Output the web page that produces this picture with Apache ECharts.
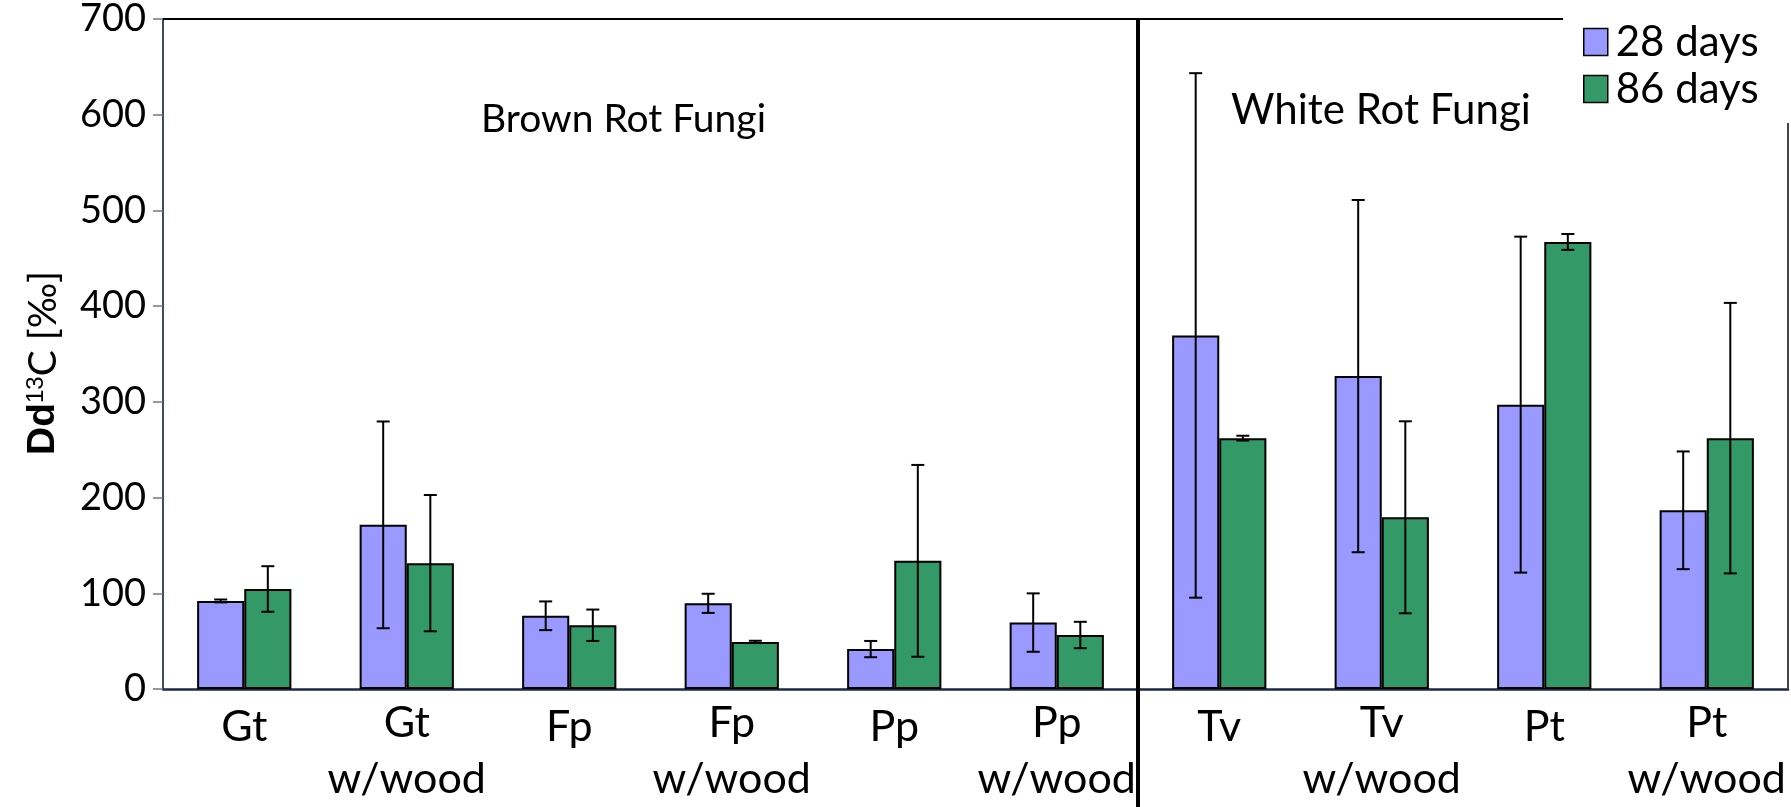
<!DOCTYPE html>
<html>
<head>
<meta charset="utf-8">
<script src="https://cdn.jsdelivr.net/npm/echarts@6/dist/echarts.min.js"></script>
<style>
  html, body { margin: 0; padding: 0; background: #fff; }
  #chart { width: 1791px; height: 807px; }
</style>
</head>
<body>
<div id="chart"></div>
<script>
// categories and values
const categories = ["Gt", "Gt\nw/wood", "Fp", "Fp\nw/wood", "Pp", "Pp\nw/wood", "Tv", "Tv\nw/wood", "Pt", "Pt\nw/wood"];
const days28 = [92, 171.5, 76.5, 89.5, 41.7, 69.4, 369.4, 326.9, 297.1, 186.7];
const err28 = [1.5, 108, 15, 10, 8.5, 30.5, 274, 184, 175.5, 61.5];
const days86 = [104.5, 131.5, 66.6, 49.2, 133.9, 56.4, 262.1, 179.4, 467.1, 262.1];
const err86 = [23.8, 71.2, 16.4, 1.2, 100.2, 13.8, 2.5, 100.3, 8.3, 141.3];
const yTicks = [0, 100, 200, 300, 400, 500, 600, 700];

const catGap = 0.42;
const myChart = echarts.init(document.getElementById("chart"));

function errData(vals, errs) {
  return vals.map((v, i) => [i, v - errs[i], v + errs[i]]);
}

// draws one error bar, shifted to the centre of the left (-1) or right (+1) bar
function errorBar(side) {
  return function (params, api) {
    const idx = api.value(0);
    const lo = api.coord([idx, api.value(1)]);
    const hi = api.coord([idx, api.value(2)]);
    const catW = api.size([1, 0])[0];
    const barW = (catW * (1 - catGap)) / 2;
    const x = lo[0] + (side * barW) / 2;
    const cap = 6.5;
    const style = { stroke: "#000", lineWidth: 2 };
    return {
      type: "group",
      children: [
        { type: "line", shape: { x1: x, y1: hi[1], x2: x, y2: lo[1] }, style },
        { type: "line", shape: { x1: x - cap, y1: hi[1], x2: x + cap, y2: hi[1] }, style },
        { type: "line", shape: { x1: x - cap, y1: lo[1], x2: x + cap, y2: lo[1] }, style }
      ]
    };
  };
}

myChart.setOption({
  animation: false,
  grid: { left: 163, right: 3, top: 17, bottom: 107, containLabel: false },
  legend: {
    orient: "vertical",
    left: 1578,
    top: 16,
    icon: "rect",
    itemWidth: 24,
    itemHeight: 27,
    itemGap: 5,
    data: ["28 days", "86 days"],
    textStyle: { fontFamily: "Lato", fontSize: 42, color: "#000", padding: [0, 0, 0, 3] },
    itemStyle: { borderColor: "#000", borderWidth: 1.5 }
  },
  xAxis: {
    type: "category",
    data: categories,
    axisLine: { lineStyle: { color: "#1b2a44", width: 2.5 } },
    axisTick: { interval: 0, length: 13, lineStyle: { color: "#666", width: 1 } },
    axisLabel: {
      interval: 0,
      margin: 6,
      color: "#000",
      fontFamily: "Lato",
      fontSize: 43,
      lineHeight: 56,
      formatter: function (v) {
        if (v.indexOf("\n") >= 0) {
          return v.split("\n").map(s => "{two|" + s + "}").join("\n");
        }
        return "{one|" + v + "}";
      },
      rich: {
        one: { fontFamily: "Lato", fontSize: 43, lineHeight: 56, padding: [8, 0, 0, 0] },
        two: { fontFamily: "Lato", fontSize: 43, lineHeight: 56 }
      }
    },
    splitLine: { show: false }
  },
  yAxis: {
    type: "value",
    min: yTicks[0],
    max: yTicks[yTicks.length - 1],
    interval: 100,
    axisLine: { show: true, lineStyle: { color: "#3d4b60", width: 2 } },
    axisTick: { show: true, length: 10, lineStyle: { color: "#777", width: 1.5 } },
    splitLine: { show: false },
    axisLabel: {
      margin: 17,
      color: "#000",
      fontFamily: "Lato",
      fontSize: 38,
      padding: [11, 0, 0, 0]
    },
    name: "{dd|Dd}{sup|13}{cc|C [‰]}",
    nameLocation: "middle",
    nameRotate: 90,
    nameGap: 100,
    nameTextStyle: {
      fontFamily: "Lato",
      fontSize: 39,
      color: "#000",
      padding: [0, 18, 0, 0],
      rich: {
        dd: { fontFamily: "Liberation Sans", fontWeight: "bold", fontSize: 39, color: "#000" },
        sup: { fontFamily: "Liberation Sans", fontSize: 24, color: "#000", verticalAlign: "top" },
        cc: { fontFamily: "Lato", fontSize: 39, color: "#000" }
      }
    }
  },
  series: [
    {
      name: "28 days",
      type: "bar",
      data: days28,
      barGap: "0%",
      barCategoryGap: catGap * 100 + "%",
      itemStyle: { color: "#9999ff", borderColor: "#000", borderWidth: 2 }
    },
    {
      name: "86 days",
      type: "bar",
      data: days86,
      itemStyle: { color: "#339966", borderColor: "#000", borderWidth: 2 }
    },
    {
      name: "err28",
      type: "custom",
      renderItem: errorBar(-1),
      data: errData(days28, err28),
      encode: { x: 0, y: [1, 2] },
      z: 5
    },
    {
      name: "err86",
      type: "custom",
      renderItem: errorBar(1),
      data: errData(days86, err86),
      encode: { x: 0, y: [1, 2] },
      z: 5
    }
  ]
});

// divider between the two groups and the partial frame
const left5 = myChart.convertToPixel({ xAxisIndex: 0 }, 5);
const left6 = myChart.convertToPixel({ xAxisIndex: 0 }, 6);
const divX = (left5 + left6) / 2;
const topY = myChart.convertToPixel({ yAxisIndex: 0 }, 700);
const botY = myChart.convertToPixel({ yAxisIndex: 0 }, 0);

myChart.setOption({
  graphic: [
    { type: "line", shape: { x1: divX, y1: topY, x2: divX, y2: 807 }, style: { stroke: "#000", lineWidth: 4 }, z: 10 },
    { type: "line", shape: { x1: 163, y1: topY, x2: 1563, y2: topY }, style: { stroke: "#000", lineWidth: 2 }, z: 10 },
    { type: "line", shape: { x1: 1788, y1: 123, x2: 1788, y2: botY }, style: { stroke: "#444", lineWidth: 2 }, z: 10 },
    {
      type: "text", left: 622 - 141, top: 100,
      style: { text: "Brown Rot Fungi", fontFamily: "Lato", fontSize: 39, fill: "#000" }
    },
    {
      type: "text", left: 1231, top: 89,
      style: { text: "White Rot Fungi", fontFamily: "Lato", fontSize: 42, fill: "#000" }
    }
  ]
});
</script>
</body>
</html>
